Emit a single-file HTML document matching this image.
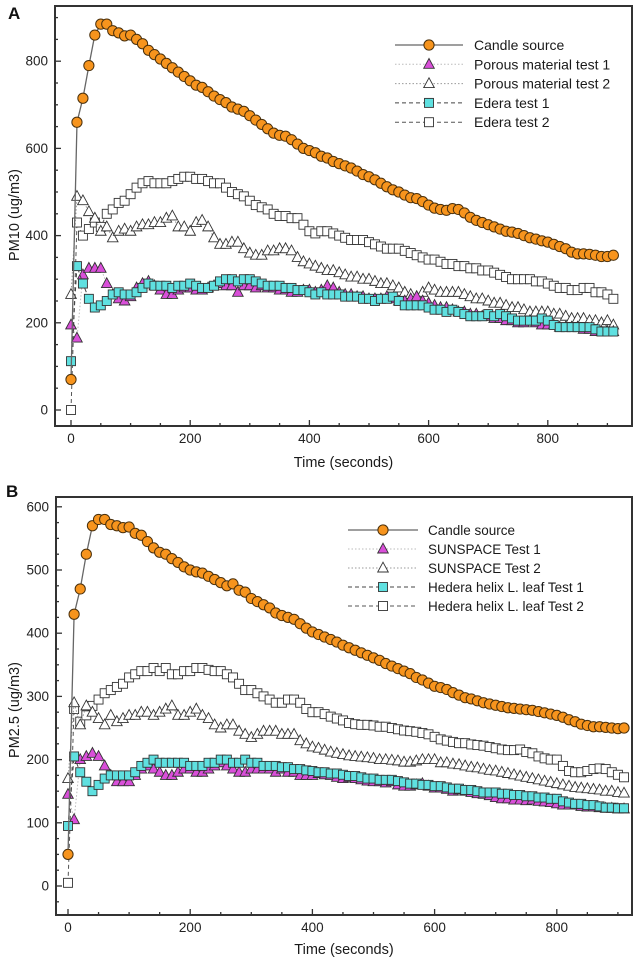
<!DOCTYPE html>
<html><head><meta charset="utf-8">
<style>
html,body{margin:0;padding:0;background:#fff;}
svg{display:block;font-family:"Liberation Sans",Arial,sans-serif;}
</style></head>
<body>
<svg id="chart" width="638" height="966" viewBox="0 0 638 966" xmlns="http://www.w3.org/2000/svg">
<text x="8" y="19" font-size="17" font-weight="bold" fill="#111">A</text>
<text x="6" y="497" font-size="17" font-weight="bold" fill="#111">B</text>
</svg>
<script>
const timeStep = 10;
const xTicks = [0, 200, 400, 600, 800];
const xTickLabels = ["0", "200", "400", "600", "800"];
const yTicksA = [0, 200, 400, 600, 800];
const yTickLabelsA = ["0", "200", "400", "600", "800"];
const yTicksB = [0, 100, 200, 300, 400, 500, 600];
const yTickLabelsB = ["0", "100", "200", "300", "400", "500", "600"];
const legendA = ["Candle source", "Porous material test 1", "Porous material test 2", "Edera test 1", "Edera test 2"];
const legendB = ["Candle source", "SUNSPACE Test 1", "SUNSPACE Test 2", "Hedera helix L. leaf Test 1", "Hedera helix L. leaf Test 2"];

const candleA = [70,660,715,790,860,885,885,870,865,858,860,850,840,825,815,805,795,785,775,765,755,745,740,730,720,712,705,695,690,685,675,665,655,645,635,630,628,620,610,600,595,590,582,578,570,565,560,555,548,540,535,528,520,512,505,500,493,487,485,478,470,463,460,458,462,460,452,442,435,430,425,420,415,410,408,405,400,395,392,388,385,380,375,370,362,358,358,357,355,352,352,355];
const porous1A = [195,165,310,325,325,325,290,265,255,250,260,280,290,295,285,275,265,265,275,280,280,275,275,280,285,290,285,285,270,285,285,280,285,280,280,275,275,270,270,275,275,270,275,285,280,270,265,265,260,260,255,255,255,260,255,250,250,255,260,250,245,240,235,235,230,225,225,220,220,215,215,210,210,205,205,200,200,205,200,195,195,195,190,190,190,190,185,185,180,180,180,180];
const porous2A = [265,490,480,455,440,410,420,395,410,415,410,420,425,425,430,430,440,445,420,420,410,430,435,420,395,380,380,385,385,370,360,355,355,365,365,370,370,365,350,340,335,330,325,320,320,315,310,305,305,300,300,295,290,290,285,280,270,265,260,270,280,275,270,270,270,270,265,260,255,255,250,245,245,240,235,235,230,225,225,225,225,220,220,215,210,210,210,205,205,200,205,195];
const edera1A = [112,330,290,255,235,240,250,265,270,265,265,270,280,290,285,285,285,280,285,285,290,285,280,280,285,295,300,300,295,300,300,295,290,285,285,285,280,280,275,275,270,265,270,265,265,265,260,260,260,255,255,250,255,255,260,250,240,240,240,240,235,230,230,225,230,225,220,215,215,215,220,215,220,215,210,205,205,205,205,210,205,195,190,190,190,190,190,190,185,180,180,180];
const edera2A = [0,430,400,415,430,420,450,460,475,480,495,510,520,525,520,520,520,525,530,535,535,530,530,525,520,520,510,500,495,490,480,470,465,460,450,445,445,440,440,425,410,405,410,410,405,400,395,390,390,390,385,380,375,370,370,370,365,360,355,350,345,345,340,335,335,330,330,325,325,320,320,315,310,305,300,300,300,300,295,295,290,285,280,280,275,275,280,280,270,270,265,255];

const candleB = [50,430,470,525,570,580,580,572,570,567,568,558,555,545,535,528,525,518,512,505,500,497,495,490,485,480,475,478,468,465,455,450,445,440,432,428,425,422,415,408,402,398,394,390,386,381,377,373,369,365,361,357,352,348,344,340,336,330,326,321,316,314,311,306,302,298,296,293,290,288,286,284,282,281,280,279,278,276,274,272,270,267,263,260,256,254,252,252,251,250,249,250];
const sun1B = [145,105,200,205,210,205,190,175,165,165,165,175,185,190,185,180,175,175,180,185,185,180,180,185,190,195,190,185,180,180,185,185,185,185,180,185,180,180,175,175,175,178,176,175,172,170,172,170,168,166,165,165,163,165,160,158,158,160,162,158,155,155,153,150,152,150,148,146,145,143,140,138,138,136,136,135,136,134,133,132,130,128,128,128,126,125,125,124,123,123,122,122];
const sun2B = [170,290,255,285,275,265,255,270,260,265,270,270,275,275,270,275,280,285,270,270,275,280,270,265,255,250,255,255,245,240,235,240,245,245,245,240,240,240,230,225,220,218,215,212,210,208,206,205,204,203,202,200,200,199,198,196,196,198,200,200,200,195,195,193,192,190,188,187,185,183,182,180,178,176,174,172,170,168,166,164,162,160,158,156,155,154,153,152,150,150,148,147];
const hed1B = [95,205,180,165,150,160,170,175,175,175,175,180,190,195,200,195,195,195,195,195,190,190,190,195,195,200,200,195,195,200,195,195,190,190,190,188,188,185,185,183,182,180,180,178,178,176,174,174,172,170,170,168,168,168,166,164,162,162,160,160,158,158,156,154,154,152,152,150,148,148,148,146,146,144,144,142,142,140,140,138,138,134,132,130,130,128,128,126,124,124,123,123];
const hed2B = [5,280,260,270,285,295,305,310,315,320,330,335,340,340,345,340,345,335,335,340,340,345,345,342,340,340,335,330,320,310,310,305,300,295,290,290,295,295,290,280,275,275,272,268,265,262,258,256,255,255,254,252,252,250,248,246,245,244,242,240,236,232,230,228,226,226,224,223,222,220,218,216,215,215,216,212,210,205,202,200,200,190,182,180,180,182,185,186,185,180,176,172];

const NS = "http://www.w3.org/2000/svg";
const svg = document.getElementById("chart");
function mk(tag, attrs, parent) {
  const e = document.createElementNS(NS, tag);
  for (const k in attrs) e.setAttribute(k, attrs[k]);
  (parent || svg).appendChild(e);
  return e;
}
const STYLES = [
  {dash: "", line: "#666", lw: 1.3, marker: "circle", fill: "#f7941d"},
  {dash: "1.5,2", line: "#bbb", lw: 1, marker: "tri", fill: "#d94fd9"},
  {dash: "1.5,2", line: "#999", lw: 1, marker: "tri", fill: "#fff"},
  {dash: "4,3", line: "#444", lw: 1, marker: "sq", fill: "#5fe0e0"},
  {dash: "4,3", line: "#555", lw: 1, marker: "sq", fill: "#fff"}
];
function marker(g, kind, cx, cy, fill, name) {
  let e;
  if (kind === "circle") e = mk("circle", {cx: cx, cy: cy, r: 5.1, fill: fill, stroke: "#4a300c", "stroke-width": 1}, g);
  else if (kind === "tri") e = mk("polygon", {points: (cx)+","+(cy-5.8)+" "+(cx-5.3)+","+(cy+4)+" "+(cx+5.3)+","+(cy+4), fill: fill, stroke: "#333", "stroke-width": 0.9}, g);
  else e = mk("rect", {x: cx-4.5, y: cy-4.5, width: 9, height: 9, fill: fill, stroke: "#333", "stroke-width": 0.9}, g);
  
  
  return e;
}
function panel(p) {
  const sx = t => p.x0 + t * p.kx;
  const sy = v => p.y0 - v * p.ky;
  const g = mk("g", {});
  
  
  const order = [4, 2, 1, 3, 0];
  order.forEach(si => {
    const vals = p.series[si], st = STYLES[si];
    const sg = mk("g", {}, g);
    
    
    const pts = vals.map((v, i) => sx(i * timeStep).toFixed(1) + "," + sy(v).toFixed(1)).join(" ");
    const pl = mk("polyline", {points: pts, fill: "none", stroke: st.line, "stroke-width": st.lw, "stroke-dasharray": st.dash}, sg);
    
    
    vals.forEach((v, i) => marker(sg, st.marker, sx(i * timeStep), sy(v), st.fill, p.id + '-point'));
  });
  const fr = mk("rect", {x: p.L, y: p.T, width: p.R - p.L, height: p.B - p.T, fill: "none", stroke: "#333", "stroke-width": 2});
  
  
  for (let t = 0; t <= p.xmax; t += 50) {
    const major = t % 200 === 0;
    const tk = mk("line", {x1: sx(t), x2: sx(t), y1: p.B, y2: p.B - (major ? 6 : 3), stroke: "#333", "stroke-width": 1.3});
    
    
  }
  xTicks.forEach((t, i) => {
    const tx = mk("text", {x: sx(t), y: p.B + 17, "text-anchor": "middle", "font-size": 13.5, fill: "#222"});
    tx.textContent = xTickLabels[i];
    
    
  });
  for (let v = p.yminor0; v <= p.ymax; v += p.yminor) {
    const major = v % p.ymajor === 0;
    const tk = mk("line", {x1: p.L, x2: p.L + (major ? 6 : 3), y1: sy(v), y2: sy(v), stroke: "#333", "stroke-width": 1.3});
    
    
  }
  p.yTicks.forEach((v, i) => {
    const tx = mk("text", {x: p.L - 7, y: sy(v) + 4.5, "text-anchor": "end", "font-size": 13.5, fill: "#222"});
    tx.textContent = p.yTickLabels[i];
    
    
  });
  const xt = mk("text", {x: (p.L + p.R) / 2, y: p.xTitleY, "text-anchor": "middle", "font-size": 14.5, fill: "#1a1a1a"});
  xt.textContent = "Time (seconds)";
  
  
  const yt = mk("text", {x: 0, y: 0, "text-anchor": "middle", "font-size": 14.5, fill: "#1a1a1a", transform: "translate(19," + p.yTitleY + ") rotate(-90)"});
  yt.textContent = p.yTitle;
  
  
  const lg = mk("g", {});
  
  
  p.legend.forEach((lab, i) => {
    const st = STYLES[i], y = p.lgY + i * p.lgDy;
    const ent = mk("g", {}, lg);
    
    
    mk("line", {x1: p.lgX1, x2: p.lgX2, y1: y, y2: y, stroke: st.line, "stroke-width": st.lw, "stroke-dasharray": st.dash}, ent);
    marker(ent, st.marker, (p.lgX1 + p.lgX2) / 2, y, st.fill, p.id + '-legend-marker');
    const tx = mk("text", {x: p.lgTX, y: y + 5, "font-size": p.lgFS, fill: "#1a1a1a"}, ent);
    tx.textContent = lab;
  });
}
panel({id: "panel-a", L: 55, T: 6, R: 632, B: 426, x0: 71, kx: 0.596, y0: 410, ky: 0.436,
  xmax: 900, ymax: 900, yminor0: 0, yminor: 50, ymajor: 200, yTicks: yTicksA, yTickLabels: yTickLabelsA,
  series: [candleA, porous1A, porous2A, edera1A, edera2A], xTitleY: 467, yTitle: "PM10 (ug/m3)", yTitleY: 215,
  legend: legendA, lgX1: 395, lgX2: 463, lgTX: 474, lgY: 45, lgDy: 19.3, lgFS: 14});
panel({id: "panel-b", L: 56, T: 497, R: 632, B: 915, x0: 68, kx: 0.611, y0: 886, ky: 0.632,
  xmax: 900, ymax: 600, yminor0: -25, yminor: 25, ymajor: 100, yTicks: yTicksB, yTickLabels: yTickLabelsB,
  series: [candleB, sun1B, sun2B, hed1B, hed2B], xTitleY: 954, yTitle: "PM2.5 (ug/m3)", yTitleY: 710,
  legend: legendB, lgX1: 348, lgX2: 418, lgTX: 428, lgY: 530, lgDy: 19, lgFS: 13.5});
</script>
</body></html>
